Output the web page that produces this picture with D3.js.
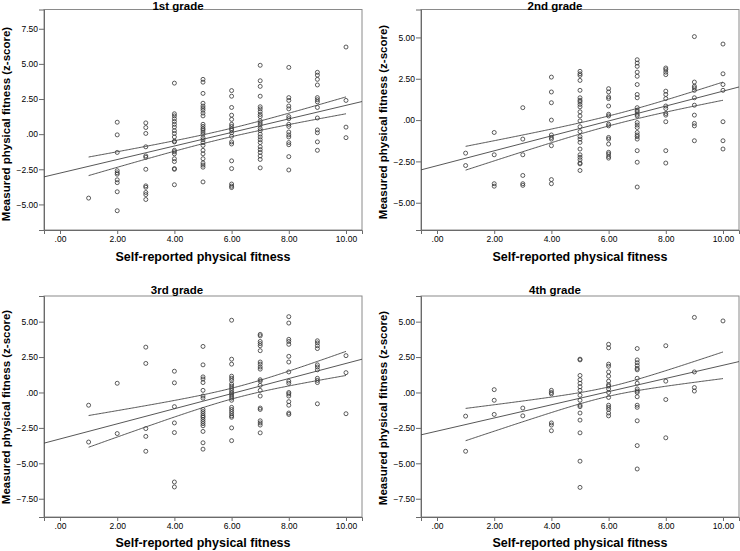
<!DOCTYPE html>
<html><head><meta charset="utf-8">
<script src="https://cdn.jsdelivr.net/npm/d3@7"></script>
<style>body{margin:0;background:#fff} svg{display:block}</style>
</head><body><svg id="c" width="740" height="551"></svg>
<script>
// ---------------- data ----------------
const gradeTitles = ["1st grade", "2nd grade", "3rd grade", "4th grade"];
const xLabel = "Self-reported physical fitness";
const yLabel = "Measured physical fitness (z-score)";
const xValues = [1, 2, 3, 4, 5, 6, 7, 8, 9, 10];
const xTicks = [0, 2, 4, 6, 8, 10];
const yTicks1 = [-5, -2.5, 0, 2.5, 5, 7.5];
const yTicks2 = [-5, -2.5, 0, 2.5, 5];
const yTicks3 = [-7.5, -5, -2.5, 0, 2.5, 5];
const yTicks4 = [-7.5, -5, -2.5, 0, 2.5, 5];

// measured z-scores per self-reported level (index = xValues)
const grade1 = [
  [-4.55],
  [0.85, -0.05, -1.3, -2.6, -2.75, -2.85, -3.25, -3.45, -4.1, -5.45],
  [0.8, 0.47, 0.05, -0.9, -1.55, -1.65, -2.5, -3.68, -3.78, -4.15, -4.3, -4.65],
  [3.63, 1.45, 1.3, 1.1, 0.9, 0.7, 0.5, 0.25, 0.05, -0.2, -0.5, -0.55, -1.15, -1.25, -1.4, -1.75, -1.95, -2.45, -2.5, -3.6],
  [3.9, 3.7, 2.9, 2.2, 2.0, 1.85, 1.7, 1.5, 1.3, 0.7, 0.55, 0.4, 0.3, 0.15, 0.0, -0.25, -0.4, -0.6, -0.8, -1.15, -1.4, -1.75, -2.05, -2.2, -2.35, -3.4],
  [3.1, 2.7, 1.9, 1.35, 1.05, 0.7, 0.55, 0.4, 0.3, 0.1, -0.15, -0.55, -0.7, -1.9, -2.45, -3.55, -3.7, -3.8],
  [4.9, 3.8, 3.4, 2.7, 1.95, 1.8, 1.6, 1.4, 1.25, 0.95, 0.8, 0.65, 0.4, 0.25, 0.0, -0.2, -0.4, -0.6, -0.9, -1.1, -1.3, -1.55, -1.8, -2.4],
  [4.75, 2.6, 2.4, 2.0, 1.8, 1.25, 1.1, 0.7, 0.55, 0.15, -0.05, -0.2, -0.6, -0.75, -1.6, -2.55],
  [4.4, 4.2, 3.9, 3.5, 2.6, 2.45, 2.3, 1.9, 1.15, 0.3, 0.1, -0.55, -1.15],
  [6.2, 2.4, 0.5, -0.25]
];
const grade2 = [
  [-2.0, -2.75],
  [-0.75, -2.1, -3.85, -4.0],
  [0.75, -1.15, -2.1, -3.35, -3.85, -3.95],
  [2.6, 1.7, 1.05, 0.0, -0.9, -1.05, -1.15, -1.55, -3.6, -3.85],
  [2.95, 2.8, 2.7, 2.4, 1.8, 1.35, 1.2, 1.1, 0.95, 0.8, 0.5, 0.25, -0.05, -0.4, -0.7, -1.0, -1.15, -1.35, -1.75, -2.1, -2.25, -2.4, -2.6, -2.65, -3.05],
  [1.9, 1.7, 1.4, 1.3, 0.85, 0.35, 0.25, -0.25, -0.35, -1.05, -1.15, -1.45, -1.95, -2.05, -2.2, -2.3],
  [3.65, 3.45, 3.25, 2.9, 2.65, 2.15, 1.55, 1.35, 0.75, 0.6, 0.5, 0.35, 0.25, -0.15, -0.3, -0.45, -0.75, -0.9, -1.0, -1.15, -1.85, -2.55, -4.05],
  [3.15, 3.05, 2.9, 2.75, 1.75, 1.55, 1.3, 0.85, 0.7, 0.4, 0.3, -0.1, -1.85, -2.6],
  [5.05, 2.3, 2.05, 1.95, 1.8, 1.35, 0.9, 0.3, -0.2, -0.35, -1.25],
  [4.6, 2.8, 2.15, 1.8, -0.1, -1.25, -1.75]
];
const grade3 = [
  [-0.9, -3.5],
  [0.65, -2.9],
  [3.2, 2.05, -2.55, -3.1, -4.15],
  [1.5, 0.68, -1.0, -2.15, -2.83, -6.32, -6.67],
  [3.25, 1.95, 1.1, 0.95, 0.7, 0.15, -0.25, -0.4, -1.2, -1.35, -1.5, -1.65, -1.75, -1.9, -2.05, -2.2, -2.35, -2.75, -3.55, -4.0],
  [5.1, 2.35, 2.0, 1.15, 1.0, 0.85, 0.6, 0.45, 0.3, 0.15, 0.0, -0.1, -0.25, -0.4, -0.55, -1.05, -1.2, -1.35, -1.5, -1.65, -1.75, -2.5, -3.4],
  [4.1, 4.0, 3.6, 3.45, 3.3, 2.95, 2.15, 2.0, 1.8, 1.65, 0.9, 0.8, 0.5, 0.15, -0.25, -1.1, -1.2, -2.0, -2.15, -2.3, -2.85],
  [5.35, 4.9, 3.75, 3.6, 3.4, 2.55, 2.15, 1.45, 0.8, 0.65, 0.0, -0.1, -0.25, -0.65, -0.9, -1.45, -1.55],
  [3.65, 3.5, 3.3, 3.1, 1.95, 1.8, 1.6, 1.0, 0.85, 0.7, -0.8],
  [2.6, 1.4, -1.5]
];
const grade4 = [
  [-1.67, -4.15],
  [0.2, -0.55, -1.55],
  [-1.1, -1.65],
  [0.15, 0.0, -0.1, -2.15, -2.3, -2.7],
  [2.35, 2.3, 1.2, 0.9, 0.65, 0.4, 0.15, -0.2, -0.55, -0.9, -1.0, -1.45, -1.95, -2.85, -4.85, -6.7],
  [3.4, 3.15, 2.0, 1.85, 1.45, 1.15, 0.8, 0.55, 0.45, 0.25, 0.0, -0.35, -0.9, -1.05, -1.2, -1.45, -1.65],
  [3.1, 2.3, 2.1, 1.9, 1.7, 1.6, 1.0, 0.65, 0.25, 0.1, 0.0, -0.3, -0.9, -1.05, -2.0, -3.75, -5.4],
  [3.3, 0.8, -0.5, -3.2],
  [5.3, 1.45, 0.35, 0.1],
  [5.05]
];

// regression fit line and 95% mean-CI half widths
const fitIntercept   = [-2.77, -2.76, -3.28, -2.73];
const fitSlope       = [0.482, 0.451, 0.533, 0.465];
const ciCenterX      = [5.8, 6.3, 6.2, 6.0];
const ciHalfAtMin    = [0.66, 0.72, 1.12, 1.14];
const ciHalfAtCenter = [0.30, 0.30, 0.38, 0.33];
const ciHalfAtMax    = [0.60, 0.55, 0.85, 0.94];

// ---------------- layout ----------------
const grades = [grade1, grade2, grade3, grade4];
const yTickSets = [yTicks1, yTicks2, yTicks3, yTicks4];
const layout = [
  {left: 44,  right: 362, top: 9.5, bottom: 230, yDom: [-6.82, 8.87], titleX: 178, titleY: 10,  yTitleX: 10,  yTitleY: 124, xTitleY: 261},
  {left: 421, right: 739, top: 9.5, bottom: 230, yDom: [-6.65, 6.69], titleX: 555, titleY: 10,  yTitleX: 387, yTitleY: 122, xTitleY: 261},
  {left: 44,  right: 362, top: 296, bottom: 517, yDom: [-8.79, 6.81], titleX: 177, titleY: 294, yTitleX: 10,  yTitleY: 407, xTitleY: 547},
  {left: 421, right: 739, top: 296, bottom: 517, yDom: [-8.79, 6.81], titleX: 555, titleY: 294, yTitleX: 387, yTitleY: 408, xTitleY: 547}
];
const FONT = "'Liberation Sans', Arial, Helvetica, sans-serif";
const fmt = v => { const s = d3.format(".2f")(v); return s === "0.00" ? ".00" : s; };

const svg = d3.select("#c");

layout.forEach((L, i) => {
  const g = svg.append("g");
  const x = d3.scaleLinear().domain([-0.56, 10.56]).range([L.left, L.right]);
  const y = d3.scaleLinear().domain(L.yDom).range([L.bottom, L.top]);

  // frame
  g.append("rect")
    .attr("x", L.left).attr("y", L.top)
    .attr("width", L.right - L.left).attr("height", L.bottom - L.top)
    .attr("fill", "none").attr("stroke", "#8a8a8a").attr("stroke-width", 1);

  // axes
  const xAxis = d3.axisBottom(x).tickValues(xTicks).tickFormat(fmt).tickSize(4).tickPadding(2);
  const gx = g.append("g").attr("transform", `translate(0,${L.bottom})`).call(xAxis);
  const yAxis = d3.axisLeft(y).tickValues(yTickSets[i]).tickFormat(fmt).tickSize(5).tickPadding(1);
  const gy = g.append("g").attr("transform", `translate(${L.left},0)`).call(yAxis);
  [gx, gy].forEach(a => {
    a.select(".domain").attr("stroke", "#6a6a6a");
    a.selectAll(".tick line").attr("stroke", "#6a6a6a");
    a.selectAll(".tick text").attr("fill", "#000").style("font-family", FONT).style("font-size", "8.5px");
  });

  // points
  const pts = [];
  grades[i].forEach((arr, k) => arr.forEach(v => pts.push([xValues[k], v])));
  g.append("g").selectAll("circle").data(pts).join("circle")
    .attr("cx", d => x(d[0])).attr("cy", d => y(d[1])).attr("r", 2)
    .attr("fill", "none").attr("stroke", "#333").attr("stroke-width", 0.8);

  // fit line across whole plot
  const fit = v => fitIntercept[i] + fitSlope[i] * v;
  const xd = x.domain();
  g.append("line")
    .attr("x1", x(xd[0])).attr("y1", y(fit(xd[0])))
    .attr("x2", x(xd[1])).attr("y2", y(fit(xd[1])))
    .attr("stroke", "#444").attr("stroke-width", 0.9);

  // CI bands over data range
  const xmin = d3.min(xValues), xmax = d3.max(xValues);
  const c = ciCenterX[i], h0 = ciHalfAtCenter[i];
  const kLo = (ciHalfAtMin[i] ** 2 - h0 * h0) / ((xmin - c) ** 2);
  const kHi = (ciHalfAtMax[i] ** 2 - h0 * h0) / ((xmax - c) ** 2);
  const hw = v => Math.sqrt(h0 * h0 + (v < c ? kLo : kHi) * (v - c) ** 2);
  const xs = d3.range(xmin, xmax + 0.001, 0.05);
  [1, -1].forEach(sgn => {
    g.append("path")
      .datum(xs)
      .attr("d", d3.line().x(v => x(v)).y(v => y(fit(v) + sgn * hw(v))))
      .attr("fill", "none").attr("stroke", "#444").attr("stroke-width", 0.9);
  });

  // titles
  g.append("text").attr("x", L.titleX).attr("y", L.titleY)
    .attr("text-anchor", "middle").style("font-family", FONT)
    .style("font-weight", "bold").style("font-size", "11.5px").text(gradeTitles[i]);
  g.append("text").attr("x", (L.left + L.right) / 2).attr("y", L.xTitleY)
    .attr("text-anchor", "middle").style("font-family", FONT)
    .style("font-weight", "bold").style("font-size", "12.5px").text(xLabel);
  g.append("text")
    .attr("transform", `translate(${L.yTitleX},${L.yTitleY}) rotate(-90)`)
    .attr("text-anchor", "middle").style("font-family", FONT)
    .style("font-weight", "bold").style("font-size", "11.5px").text(yLabel);
});
</script>
</body></html>
